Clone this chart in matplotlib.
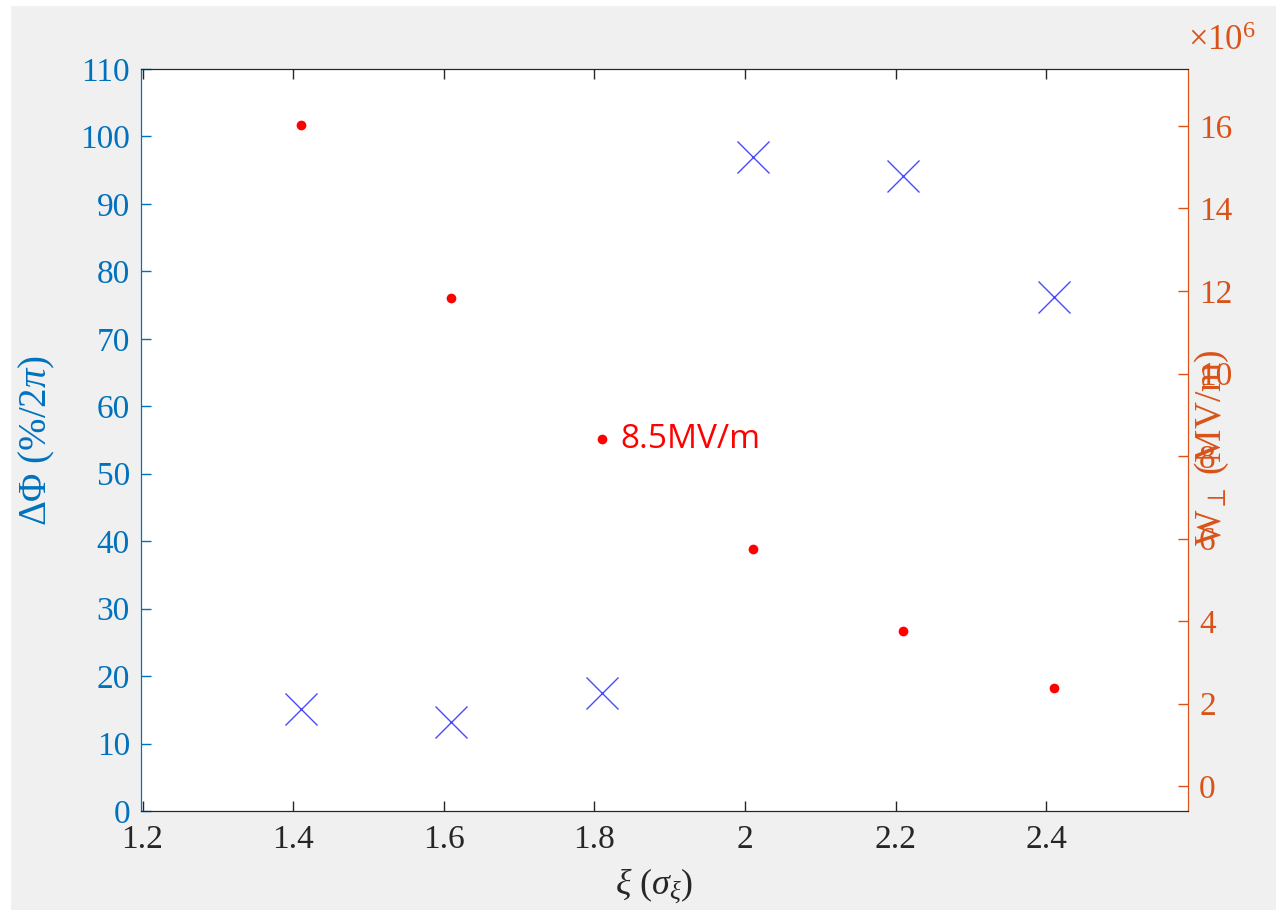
import matplotlib.pyplot as plt
from matplotlib.patches import Rectangle

plt.rcParams['font.family'] = ['Liberation Serif', 'DejaVu Serif']
plt.rcParams['mathtext.fontset'] = 'custom'
plt.rcParams['mathtext.rm'] = 'Liberation Serif'
plt.rcParams['mathtext.it'] = 'Liberation Serif:italic'
plt.rcParams['mathtext.fallback'] = 'stix'

# data
xi = [1.41, 1.61, 1.81, 2.01, 2.21, 2.41]
dphi = [15.1, 13.2, 17.5, 97.0, 94.1, 76.2]          # %/2pi, left axis
w_perp = [16.02e6, 11.83e6, 8.41e6, 5.75e6, 3.76e6, 2.38e6]  # right axis
xticks = [1.2, 1.4, 1.6, 1.8, 2.0, 2.2, 2.4]
xticklabels = ['1.2', '1.4', '1.6', '1.8', '2', '2.2', '2.4']
yticks_left = list(range(0, 111, 10))
yticks_right = [0, 2e6, 4e6, 6e6, 8e6, 10e6, 12e6, 14e6, 16e6]

blue = '#0072BD'
orange = '#D95319'
dark = '#262626'

fig = plt.figure(figsize=(12.76, 9.10), dpi=100, facecolor='#f0f0f0')
fig.patches.append(Rectangle((0, 0), 10/1276, 1, transform=fig.transFigure, color='white', zorder=-1))
fig.patches.append(Rectangle((0, 1 - 5/910), 1, 5/910, transform=fig.transFigure, color='white', zorder=-1))

ax = fig.add_axes([141/1276, 1 - 811/910, (1188-141)/1276, (811-69)/910])
ax2 = ax.twinx()

ax.plot(xi, dphi, 'x', color='#4a4aff', markersize=23, markeredgewidth=1.0, zorder=3)
ax2.plot(xi, w_perp, 'o', color='red', markersize=7, markeredgewidth=0, zorder=3)

ax.set_xlim(1.198, 2.588)
ax.set_ylim(0, 110)
ax2.set_ylim(-0.6e6, 17.38e6)

ax.set_xticks(xticks)
ax.set_xticklabels(xticklabels)
ax.set_yticks(yticks_left)
ax2.set_yticks(yticks_right)
ax2.set_yticklabels([str(int(v / 1e6)) for v in yticks_right])

ax.tick_params(axis='x', which='both', direction='in', length=7, width=1, colors=dark,
               labelsize=24, top=True, pad=10)
ax.tick_params(axis='y', direction='in', length=7, width=1, colors=blue, labelsize=24, pad=8)
ax2.tick_params(axis='y', direction='in', length=7, width=1, colors=orange, labelsize=24, pad=8)

for a in (ax, ax2):
    a.spines['top'].set_color(dark)
    a.spines['bottom'].set_color(dark)
    a.spines['left'].set_color(blue)
    a.spines['right'].set_color(orange)

ax.set_xlabel(r'$\xi\ (\sigma_\xi)$', fontsize=26, color=dark)
ax.xaxis.set_label_coords(0.49, -0.075)
ax.set_ylabel(r'$\Delta\Phi\ (\%/2\pi)$', fontsize=28, color=blue)
ax.yaxis.set_label_coords(-0.08, 0.50)
# the right label sits on top of the tick labels, as in the original
ax2.set_ylabel(r'$\mathrm{W}_\perp\ (\mathrm{MV/m})$', fontsize=27, color=orange, rotation=90)
ax2.yaxis.set_label_coords(1.005, 0.49)

ax2.text(1.0, 1.015, r'$\times10^{6}$', transform=ax2.transAxes, fontsize=25,
         color=orange, ha='left', va='bottom')

ax2.text(1.835, 8.41e6, '8.5MV/m', color='red', fontsize=24,
         family=['Open Sans', 'DejaVu Sans'], ha='left', va='center')

fig.savefig('out.png', dpi=100, facecolor=fig.get_facecolor())
